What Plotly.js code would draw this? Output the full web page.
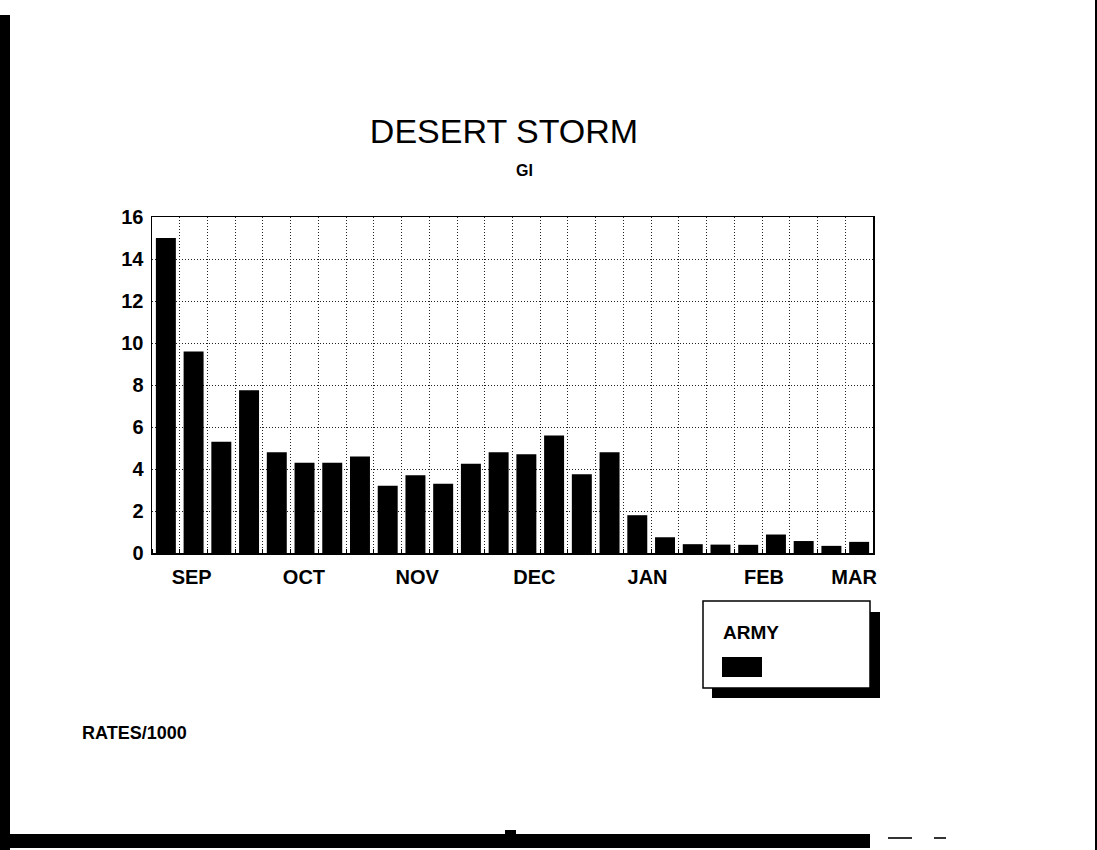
<!DOCTYPE html>
<html>
<head>
<meta charset="utf-8">
<script src="https://cdn.plot.ly/plotly-3.0.1.min.js"></script>
<style>html,body{margin:0;padding:0;background:#fff;}#chart{width:1097px;height:850px;}</style>
</head>
<body>
<div id="chart"></div>
<script>
// ---- data ----
const weeks = [1,2,3,4,5,6,7,8,9,10,11,12,13,14,15,16,17,18,19,20,21,22,23,24,25,26];
const armyRates = [15.0,9.6,5.3,7.75,4.8,4.3,4.3,4.6,3.2,3.7,3.3,4.25,4.8,4.7,5.6,3.75,4.8,1.8,0.75,0.42,0.4,0.39,0.88,0.57,0.34,0.53];
const monthLabels = ["SEP","OCT","NOV","DEC","JAN","FEB","MAR"];
const monthPositions = [1.93,5.98,10.06,14.29,18.37,22.57,25.82];
const yTicks = [0,2,4,6,8,10,12,14,16];
const seriesName = "ARMY";

// ---- layout helpers (pixel -> paper, decoration only) ----
const W = 1097, H = 850, L = 152, R = 873, T = 217, B = 553;
const px = x => (x - L) / (R - L);
const py = y => (B - y) / (B - T);
function rect(x0, y0, x1, y1, fill, line) {
  return {type:'rect', xref:'paper', yref:'paper', x0:px(x0), x1:px(x1), y0:py(y1), y1:py(y0),
          fillcolor:fill, line: line || {width:0}, layer:'above'};
}

const boundaries = weeks.map(w => w - 0.5).concat([weeks[weeks.length-1] + 0.5]);
const boldFont = {family:'Liberation Sans, Arial, sans-serif', size:20, color:'#000', weight:'bold'};

const trace = {
  type:'bar', x: weeks, y: armyRates, name: seriesName,
  marker:{color:'#000', line:{width:0}}, width:0.72, showlegend:false
};

const layout = {
  width: W, height: H,
  margin:{l:L, r:W-R, t:T, b:H-B, pad:0},
  paper_bgcolor:'#fff', plot_bgcolor:'#fff',
  title:{text:'DESERT STORM', x:504/W, xanchor:'center', y:1-131/H, yanchor:'middle', yref:'container', xref:'container',
         font:{family:'Liberation Sans, Arial, sans-serif', size:34, color:'#000'}},
  xaxis:{range:[0.5, 26.5], tickmode:'array', tickvals: monthPositions, ticktext: monthLabels,
         showgrid:false, zeroline:false, showline:true, mirror:true, linecolor:'#000', linewidth:1.5,
         ticks:'', tickfont: boldFont, ticklabelstandoff: 5,
         minor:{tickmode:'array', tickvals: boundaries, showgrid:true, gridcolor:'#222', gridwidth:1, griddash:'1px,2px',
                ticks:'inside', ticklen:4, tickcolor:'#000'}},
  yaxis:{range:[0,16], tickmode:'array', tickvals: yTicks, showgrid:true, gridcolor:'#222', gridwidth:1, griddash:'1px,2px',
         zeroline:false, showline:true, mirror:true, linecolor:'#000', linewidth:1.5, ticks:'',
         tickfont: boldFont, ticklabelstandoff: 3},
  annotations:[
    {text:'GI', xref:'paper', yref:'paper', x:px(524), y:py(170), showarrow:false, xanchor:'center', yanchor:'middle',
     font:{family:'Liberation Sans, Arial, sans-serif', size:16, color:'#000', weight:'bold'}},
    {text:'RATES/1000', xref:'paper', yref:'paper', x:px(80), y:py(733), showarrow:false, xanchor:'left', yanchor:'middle',
     font:{family:'Liberation Sans, Arial, sans-serif', size:18, color:'#000', weight:'bold'}},
    {text: seriesName, xref:'paper', yref:'paper', x:px(721), y:py(632), showarrow:false, xanchor:'left', yanchor:'middle',
     font:{family:'Liberation Sans, Arial, sans-serif', size:19, color:'#000', weight:'bold'}}
  ],
  shapes:[
    // legend shadow, box, swatch
    rect(712, 612, 880, 698, '#000'),
    rect(703, 601, 870, 688, '#fff', {color:'#000', width:1.5}),
    rect(722, 657, 762, 677, '#000'),
    // scan frame decorations
    rect(0, 15, 10, 850, '#000'),
    rect(0, 834, 870, 848, '#000'),
    rect(505, 830, 516, 834, '#000'),
    rect(888, 837, 912, 839, '#333'),
    rect(934, 837, 946, 839, '#333'),
    rect(1095, 0, 1097, 850, '#000')
  ]
};

Plotly.newPlot('chart', [trace], layout, {displayModeBar:false, staticPlot:true});
</script>
</body>
</html>
